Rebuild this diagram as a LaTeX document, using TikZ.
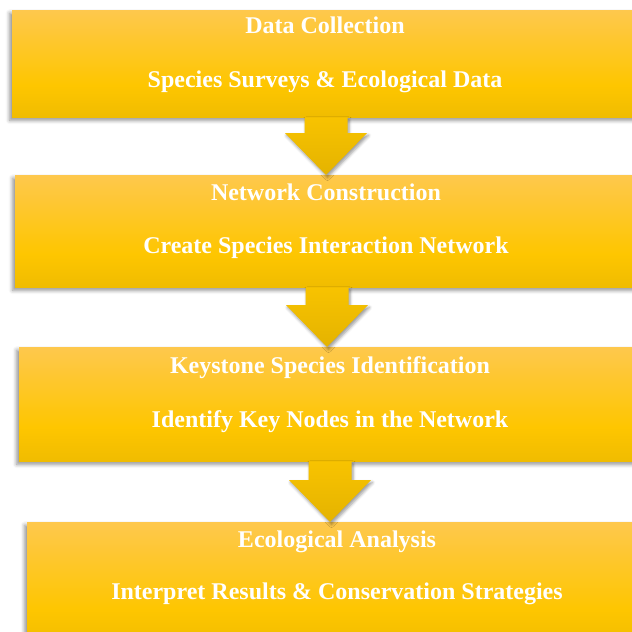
\documentclass[tikz,border=0pt]{standalone}
\usepackage{fontspec}
\setmainfont{Liberation Serif}
\usetikzlibrary{calc,shadows.blur}

\definecolor{boxtop}{HTML}{FEC84D}
\definecolor{boxmid}{HTML}{FEC600}
\definecolor{boxbot}{HTML}{F0BC00}
\definecolor{arrtop}{HTML}{F8C300}
\definecolor{arrbot}{HTML}{E4B300}

% light at the top, full yellow below the middle, a little darker at the foot
\pgfdeclareverticalshading{stepshade}{100bp}{color(0bp)=(boxbot); color(25bp)=(boxbot); color(40bp)=(boxmid); color(75bp)=(boxtop); color(100bp)=(boxtop)}
\pgfdeclareverticalshading{arrowshade}{100bp}{color(0bp)=(arrbot); color(25bp)=(arrbot); color(75bp)=(arrtop); color(100bp)=(arrtop)}

\tikzset{
  stepbox/.style={rectangle, inner sep=0pt, anchor=north west, minimum width=628pt,
    shading=stepshade,
    blur shadow={shadow xshift=-2.5pt, shadow yshift=-3pt, shadow blur radius=4pt, shadow opacity=45}},
  steptext/.style={anchor=base, inner sep=0pt, text=white,
    font=\fontsize{24}{28}\selectfont\bfseries},
  flowarrow/.style={shading=arrowshade,
    blur shadow={shadow xshift=1.5pt, shadow yshift=-2.5pt, shadow blur radius=3pt, shadow opacity=40}},
}

% block arrow from a box's foot (#1) down to the next box's head (#2)
\newcommand\blockarrow[2]{%
  \path[flowarrow]
    ($(#1)+(-21.5,0)$) -- ($(#2)+(-21.5,-42)$) -- ($(#2)+(-41,-42)$) -- (#2)
    -- ($(#2)+(41,-42)$) -- ($(#2)+(21.5,-42)$) -- ($(#1)+(21.5,0)$) -- cycle;}

\begin{document}
\begin{tikzpicture}[x=1pt,y=-1pt]
  \useasboundingbox (0,0) rectangle (632,632);

  % the four steps
  \node[stepbox, minimum height=107pt] (b1) at (12,10) {};
  \node[stepbox, minimum height=112pt] (b2) at (15,175) {};
  \node[stepbox, minimum height=114pt] (b3) at (19,347) {};
  \node[stepbox, minimum height=125pt] (b4) at (27,522) {};

  % connectors between the steps
  \coordinate (a1s) at (326,0 |- b1.south);
  \coordinate (a1e) at (326,0 |- b2.north);
  \coordinate (a2s) at (327,0 |- b2.south);
  \coordinate (a2e) at (327,0 |- b3.north);
  \coordinate (a3s) at (330,0 |- b3.south);
  \coordinate (a3e) at (330,0 |- b4.north);
  \blockarrow{a1s}{a1e}
  \blockarrow{a2s}{a2e}
  \blockarrow{a3s}{a3e}

  % titles and descriptions
  \node[steptext] (t1) at (325,33) {Data Collection};
  \node[steptext] (d1) at (325,87) {Species Surveys \& Ecological Data};
  \node[steptext] (t2) at (326,200) {Network Construction};
  \node[steptext] (d2) at (326,253) {Create Species Interaction Network};
  \node[steptext] (t3) at (330,373) {Keystone Species Identification};
  \node[steptext] (d3) at (330,427) {Identify Key Nodes in the Network};
  \node[steptext] (t4) at (337,547) {Ecological Analysis};
  \node[steptext] (d4) at (337,599) {Interpret Results \& Conservation Strategies};
\end{tikzpicture}
\end{document}
